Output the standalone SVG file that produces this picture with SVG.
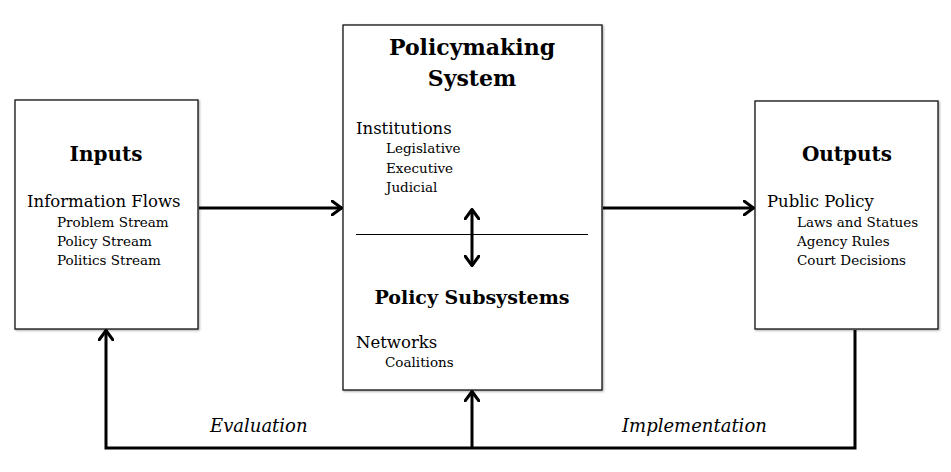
<svg xmlns="http://www.w3.org/2000/svg" width="951" height="472" viewBox="0 0 951 472">
<style>
.box{fill:#fff;stroke:#111;stroke-width:1.3;filter:url(#sh)}
.t{font-family:"DejaVu Serif","Liberation Serif",serif;fill:#000}
.h{font-weight:bold;text-anchor:middle}
.l1{font-size:16.5px}
.l2{font-size:13.5px}
.it{font-style:italic;font-size:18px}
.c{fill:none;stroke:#000;stroke-width:3}
</style>
<defs>
<filter id="sh" x="-5%" y="-5%" width="110%" height="110%">
<feDropShadow dx="1" dy="1" stdDeviation="0.8" flood-color="#000" flood-opacity="0.35"/>
</filter>
<marker id="ah" viewBox="0 0 12 16" refX="11" refY="8" markerWidth="12" markerHeight="16" markerUnits="userSpaceOnUse" orient="auto-start-reverse">
<path d="M1,1 L10.5,8 L1,15" fill="none" stroke="#000" stroke-width="3" stroke-linecap="round" stroke-linejoin="round"/>
</marker>
</defs>
<g id="inputs">
<rect class="box" x="15" y="100" width="183" height="229"/>
<text class="t h" x="106" y="161" font-size="20">Inputs</text>
<text class="t l1" x="27" y="207">Information Flows</text>
<text class="t l2" x="57" y="227">Problem Stream</text>
<text class="t l2" x="57" y="246">Policy Stream</text>
<text class="t l2" x="57" y="265">Politics Stream</text>
</g>
<g id="policymaking">
<rect class="box" x="343" y="25" width="259" height="365"/>
<text class="t h" x="472" y="55" font-size="22">Policymaking</text>
<text class="t h" x="472" y="86" font-size="22">System</text>
<text class="t l1" x="356" y="134">Institutions</text>
<text class="t l2" x="386" y="153">Legislative</text>
<text class="t l2" x="386" y="173">Executive</text>
<text class="t l2" x="386" y="192">Judicial</text>
<line x1="356" y1="234.5" x2="588" y2="234.5" stroke="#000" stroke-width="1"/>
<text class="t h" x="472" y="304" font-size="19">Policy Subsystems</text>
<text class="t l1" x="356" y="348">Networks</text>
<text class="t l2" x="385" y="367">Coalitions</text>
</g>
<g id="outputs">
<rect class="box" x="755" y="101" width="183" height="228"/>
<text class="t h" x="847" y="161" font-size="20">Outputs</text>
<text class="t l1" x="767" y="207">Public Policy</text>
<text class="t l2" x="797" y="227">Laws and Statues</text>
<text class="t l2" x="797" y="246">Agency Rules</text>
<text class="t l2" x="797" y="265">Court Decisions</text>
</g>
<g id="connectors">
<path class="c" d="M199,208 H342" marker-end="url(#ah)"/>
<path class="c" d="M603,208 H754" marker-end="url(#ah)"/>
<path class="c" d="M472,209 V266" marker-start="url(#ah)" marker-end="url(#ah)"/>
<path class="c" d="M855,330 V448 H106 V330" marker-end="url(#ah)"/>
<path class="c" d="M472,448 V391" marker-end="url(#ah)"/>
</g>
<g id="labels">
<text class="t it" x="210" y="432">Evaluation</text>
<text class="t it" x="622" y="432">Implementation</text>
</g>
</svg>
